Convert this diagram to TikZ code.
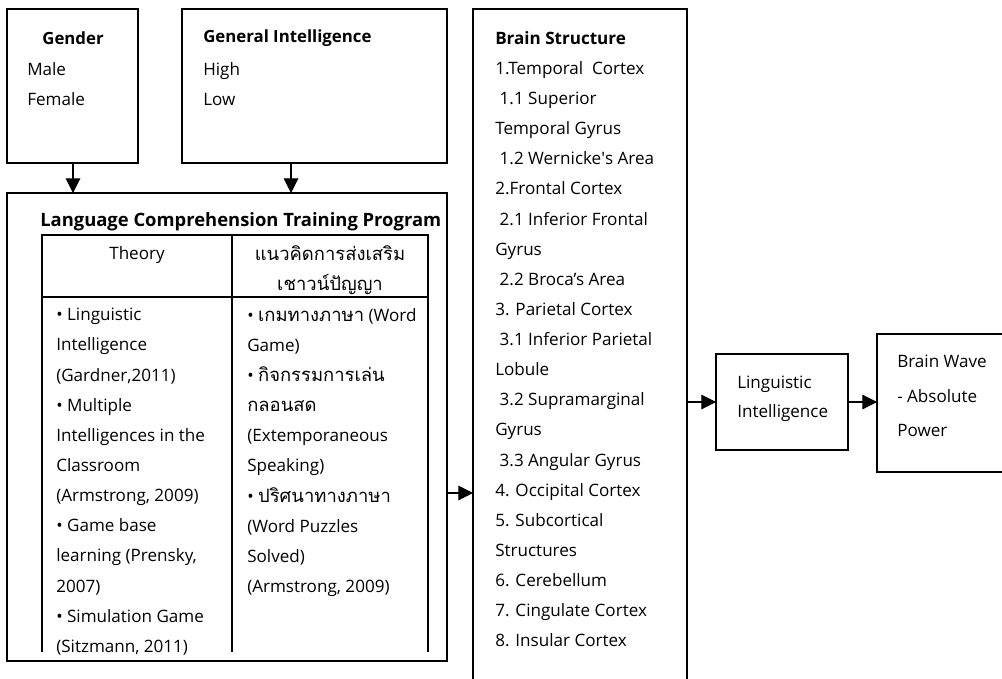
\documentclass[tikz,border=0pt]{standalone}
\usepackage{fontspec}
\setmainfont{Open Sans}
\newfontfamily\thaifont[Script=Thai,Scale=1.08]{Loma}
\usetikzlibrary{arrows.meta,fit}

\tikzset{
  box/.style={draw, line width=1.4pt, inner sep=0pt, outer sep=0pt},
  thinbox/.style={draw, line width=0.8pt, inner sep=0pt, outer sep=0pt},
  txt/.style={inner sep=0pt, anchor=north west, align=left, font=\fontsize{12.8}{22.6}\selectfont},
  hd/.style={inner sep=0pt, anchor=west, font=\fontsize{12.6}{22.6}\selectfont\bfseries},
  arr/.style={line width=0.8pt, -{Triangle[length=11pt,width=11pt]}},
}

\begin{document}
\begin{tikzpicture}[x=0.75pt, y=-0.75pt]
  \useasboundingbox (0,0) rectangle (1002,678);

  \coordinate (G1) at (7,9);     \coordinate (G2) at (138,163);
  \coordinate (I1) at (182,9);   \coordinate (I2) at (447,163);
  \coordinate (P1) at (7,193);   \coordinate (P2) at (447,661);
  \coordinate (B1) at (473,9);   \coordinate (B2) at (687,720);
  \coordinate (L1) at (716,354); \coordinate (L2) at (848,450);
  \coordinate (W1) at (877,334); \coordinate (W2) at (1020,472);

  \node[box, fit=(G1)(G2)] (gender) {};
  \node[box, fit=(I1)(I2)] (intel) {};
  \node[box, fit=(P1)(P2)] (prog) {};
  \node[box, fit=(B1)(B2)] (brain) {};
  \node[thinbox, fit=(L1)(L2)] (ling) {};
  \node[thinbox, fit=(W1)(W2)] (wave) {};

  % table inside the program box
  \draw[line width=0.8pt] (42,652) -- (42,235) -- (428,235) -- (428,652);
  \draw[line width=0.8pt] (232,235) -- (232,652);
  \draw[line width=0.8pt] (42,297) -- (428,297);

  % texts
  \node[hd, anchor=center] (gtitle) at (73,38) {Gender};
  \node[txt] (glist) at (27,62) {Male\\Female};
  \node[hd] (ititle) at (203,38) {General Intelligence};
  \node[txt] (ilist) at (203,62) {High\\Low};

  \node[hd, font=\fontsize{13.8}{22.6}\selectfont\bfseries] (ptitle) at (40,222) {Language Comprehension Training Program};
  \node[txt, anchor=north] (theory) at (137,246) {Theory};
  \node[txt, anchor=north, align=center] (thaihd) at (330,245)
    {\thaifont แนวคิดการส่งเสริม\\\thaifont เชาวน์ปัญญา};
  \node[txt] (lcol) at (56,308) {• Linguistic\\Intelligence\\(Gardner,2011)\\• Multiple\\Intelligences in the\\Classroom\\(Armstrong, 2009)\\• Game base\\learning (Prensky,\\2007)\\• Simulation Game\\(Sitzmann, 2011)};
  \node[txt] (rcol) at (247,308) {• {\thaifont เกมทางภาษา} (Word\\Game)\\• {\thaifont กิจกรรมการเล่น}\\{\thaifont กลอนสด}\\(Extemporaneous\\Speaking)\\• {\thaifont ปริศนาทางภาษา}\\(Word Puzzles\\Solved)\\(Armstrong, 2009)};

  \node[txt] (blist) at (495,31) {\textbf{Brain Structure}\\1.Temporal\ \ Cortex\\\ 1.1 Superior\\Temporal Gyrus\\\ 1.2 Wernicke\textquotesingle s Area\\2.Frontal Cortex\\\ 2.1 Inferior Frontal\\Gyrus\\\ 2.2 Broca’s Area\\3. Parietal Cortex\\\ 3.1 Inferior Parietal\\Lobule\\\ 3.2 Supramarginal\\Gyrus\\\ 3.3 Angular Gyrus\\4. Occipital Cortex\\5. Subcortical\\Structures\\6. Cerebellum\\7. Cingulate Cortex\\8. Insular Cortex};

  \node[txt, font=\fontsize{12.8}{21.8}\selectfont] (ltext) at (737,376) {Linguistic\\Intelligence};
  \node[txt, font=\fontsize{12.8}{25.9}\selectfont] (wtext) at (897,355) {Brain Wave\\- Absolute\\Power};

  % connectors
  \coordinate (ga) at (73,0);
  \coordinate (ia) at (291,0);
  \coordinate (pa) at (0,493);
  \draw[arr] (gender.south -| ga) -- (prog.north -| ga);
  \draw[arr] (intel.south -| ia) -- (prog.north -| ia);
  \draw[arr] (prog.east |- pa) -- (brain.west |- pa);
  \draw[arr] (brain.east |- ling.west) -- (ling.west);
  \draw[arr] (ling.east) -- (wave.west |- ling.east);
\end{tikzpicture}
\end{document}
